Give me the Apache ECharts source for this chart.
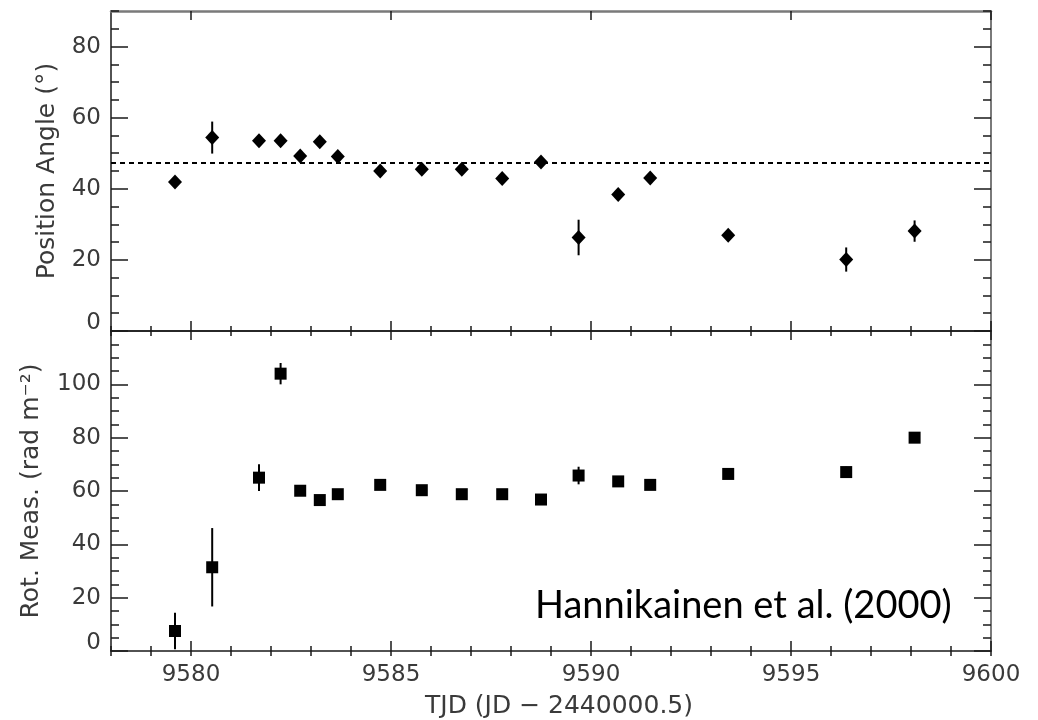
<!DOCTYPE html>
<html>
<head>
<meta charset="utf-8">
<script src="https://cdn.jsdelivr.net/npm/echarts@6/dist/echarts.min.js"></script>
<style>html,body{margin:0;padding:0;background:#fff}#c{width:1038px;height:720px}</style>
</head>
<body>
<div id="c"></div>
<script>
// ---- data ----
const tjd = [9579.6, 9580.53, 9581.7, 9582.24, 9582.73, 9583.22, 9583.67, 9584.73, 9585.77, 9586.77, 9587.78, 9588.75, 9589.69, 9590.68, 9591.48, 9593.43, 9596.38, 9598.09];
const posAngle = [41.9, 54.4, 53.5, 53.5, 49.2, 53.2, 49.1, 45.0, 45.5, 45.5, 42.9, 47.5, 26.3, 38.4, 43.0, 26.9, 20.1, 28.1];
const posAngleErr = [1, 4.5, 1, 1, 1, 1, 1, 1, 1, 1, 1, 1, 5, 1, 1, 1, 3.4, 3];
const rotMeas = [7.5, 31.4, 65.0, 104.0, 60.1, 56.6, 58.8, 62.3, 60.3, 58.8, 58.8, 56.8, 65.8, 63.6, 62.3, 66.4, 67.1, 80.0];
const rotMeasErr = [6.8, 14.7, 5, 4, 1, 1, 1, 1, 1, 1, 1, 1, 3.3, 1, 1, 1, 2, 2];
const meanPA = 47.2;
const xTicks = [9580, 9585, 9590, 9595, 9600];
const paTicks = [0, 20, 40, 60, 80];
const rmTicks = [0, 20, 40, 60, 80, 100];
const xRange = [9578, 9600];
const paRange = [0, 90];
const rmRange = [0, 120];
const xTitle = 'TJD (JD \u2212 2440000.5)';
const paTitle = 'Position Angle (\u00b0)';
const rmTitle = 'Rot. Meas. (rad m\u207b\u00b2)';
const note = 'Hannikainen et al. (2000)';

// ---- build ----
const FONT = 'DejaVu Sans';
const TXT = '#3a3a3a';
const DARK = '#1a1a1a';
const GRAY = '#7a7a7a';

function pts(xs, ys) { return xs.map((x, i) => [x, ys[i]]); }
function bars(xs, ys, es) { return xs.map((x, i) => [x, ys[i] - es[i], ys[i] + es[i]]); }

function errBar(params, api) {
  const x = api.value(0);
  const p1 = api.coord([x, api.value(1)]);
  const p2 = api.coord([x, api.value(2)]);
  return { type: 'line', shape: { x1: p1[0], y1: p1[1], x2: p2[0], y2: p2[1] }, style: { stroke: '#000', lineWidth: 2 } };
}

const labelStyle = { color: TXT, fontFamily: FONT, fontSize: 23 };
function yFmt(v) { return v === 0 ? '{z|0}' : String(v); }
function xFmt(v) { return String(v); }

function xAxes(grid, showLabels, topColor, showName) {
  return [
    { gridIndex: grid, type: 'value', position: 'bottom', min: xRange[0], max: xRange[1],
      axisLine: { show: true, onZero: false, lineStyle: { color: DARK, width: 1.5 } },
      axisTick: { show: true, inside: true, length: 10, customValues: xTicks, lineStyle: { color: DARK, width: 1.5 } },
      axisLabel: Object.assign({ show: showLabels, customValues: xTicks, margin: 13, formatter: xFmt }, labelStyle),
      splitLine: { show: false },
      name: showName ? xTitle : '', nameLocation: 'middle', nameGap: 43,
      nameTextStyle: { color: TXT, fontFamily: FONT, fontSize: 25, padding: [0, 0, 0, 16] } },
    { gridIndex: grid, type: 'value', position: 'bottom', min: xRange[0], max: xRange[1], interval: 1,
      axisLine: { show: false }, axisTick: { show: true, inside: true, length: 5, lineStyle: { color: DARK, width: 1.5 } },
      axisLabel: { show: false }, splitLine: { show: false } },
    { gridIndex: grid, type: 'value', position: 'top', min: xRange[0], max: xRange[1],
      axisLine: { show: true, onZero: false, lineStyle: { color: topColor, width: topColor === GRAY ? 2.5 : 1.5 } },
      axisTick: { show: true, inside: true, length: 9, customValues: xTicks, lineStyle: { color: DARK, width: 1.5 } },
      axisLabel: { show: false }, splitLine: { show: false } },
    { gridIndex: grid, type: 'value', position: 'top', min: xRange[0], max: xRange[1], interval: 1,
      axisLine: { show: false }, axisTick: { show: true, inside: true, length: 5, lineStyle: { color: DARK, width: 1.5 } },
      axisLabel: { show: false }, splitLine: { show: false } }
  ];
}

function yAxes(grid, range, ticks, title, gap) {
  return [
    { gridIndex: grid, type: 'value', position: 'left', min: range[0], max: range[1],
      axisLine: { show: true, onZero: false, lineStyle: { color: DARK, width: 1.5 } },
      axisTick: { show: true, inside: true, length: 17, customValues: ticks, lineStyle: { color: DARK, width: 1.5 } },
      axisLabel: Object.assign({ customValues: ticks, margin: 10, formatter: yFmt,
        rich: { z: { color: TXT, fontFamily: FONT, fontSize: 23, padding: [0, 0, 16, 0] } } }, labelStyle),
      splitLine: { show: false },
      name: title, nameLocation: 'middle', nameGap: gap,
      nameTextStyle: { color: TXT, fontFamily: FONT, fontSize: 25 } },
    { gridIndex: grid, type: 'value', position: 'left', min: range[0], max: range[1], interval: 5,
      axisLine: { show: false }, axisTick: { show: true, inside: true, length: 8, lineStyle: { color: DARK, width: 1.5 } },
      axisLabel: { show: false }, splitLine: { show: false } },
    { gridIndex: grid, type: 'value', position: 'right', min: range[0], max: range[1],
      axisLine: { show: true, onZero: false, lineStyle: { color: GRAY, width: 2 } },
      axisTick: { show: true, inside: true, length: 17, customValues: ticks, lineStyle: { color: DARK, width: 1.5 } },
      axisLabel: { show: false }, splitLine: { show: false } },
    { gridIndex: grid, type: 'value', position: 'right', min: range[0], max: range[1], interval: 5,
      axisLine: { show: false }, axisTick: { show: true, inside: true, length: 8, lineStyle: { color: DARK, width: 1.5 } },
      axisLabel: { show: false }, splitLine: { show: false } }
  ];
}

const option = {
  animation: false,
  backgroundColor: '#fff',
  grid: [
    { left: 111, top: 11, width: 880, height: 320 },
    { left: 111, top: 331, width: 880, height: 320 }
  ],
  xAxis: [].concat(xAxes(0, false, GRAY, false), xAxes(1, true, DARK, true)),
  yAxis: [].concat(yAxes(0, paRange, paTicks, paTitle, 51), yAxes(1, rmRange, rmTicks, rmTitle, 67)),
  series: [
    { type: 'custom', xAxisIndex: 0, yAxisIndex: 0, renderItem: errBar, data: bars(tjd, posAngle, posAngleErr),
      encode: { x: 0, y: [1, 2] }, clip: true, z: 2 },
    { type: 'scatter', xAxisIndex: 0, yAxisIndex: 0, symbol: 'diamond', symbolSize: [14, 15],
      itemStyle: { color: '#000', opacity: 1 }, data: pts(tjd, posAngle), z: 3,
      markLine: { silent: true, symbol: ['none', 'none'], label: { show: false },
        lineStyle: { color: '#000', type: [5, 4], width: 2 }, data: [{ yAxis: meanPA }] } },
    { type: 'custom', xAxisIndex: 4, yAxisIndex: 4, renderItem: errBar, data: bars(tjd, rotMeas, rotMeasErr),
      encode: { x: 0, y: [1, 2] }, clip: true, z: 2 },
    { type: 'scatter', xAxisIndex: 4, yAxisIndex: 4, symbol: 'rect', symbolSize: 12,
      itemStyle: { color: '#000', opacity: 1 }, data: pts(tjd, rotMeas), z: 3 }
  ],
  graphic: [
    { type: 'text', left: 535, top: 587, style: { text: note, fill: '#000', font: '38px Lato' } }
  ]
};

const chart = echarts.init(document.getElementById('c'), null, { renderer: 'canvas' });
chart.setOption(option);
</script>
</body>
</html>
